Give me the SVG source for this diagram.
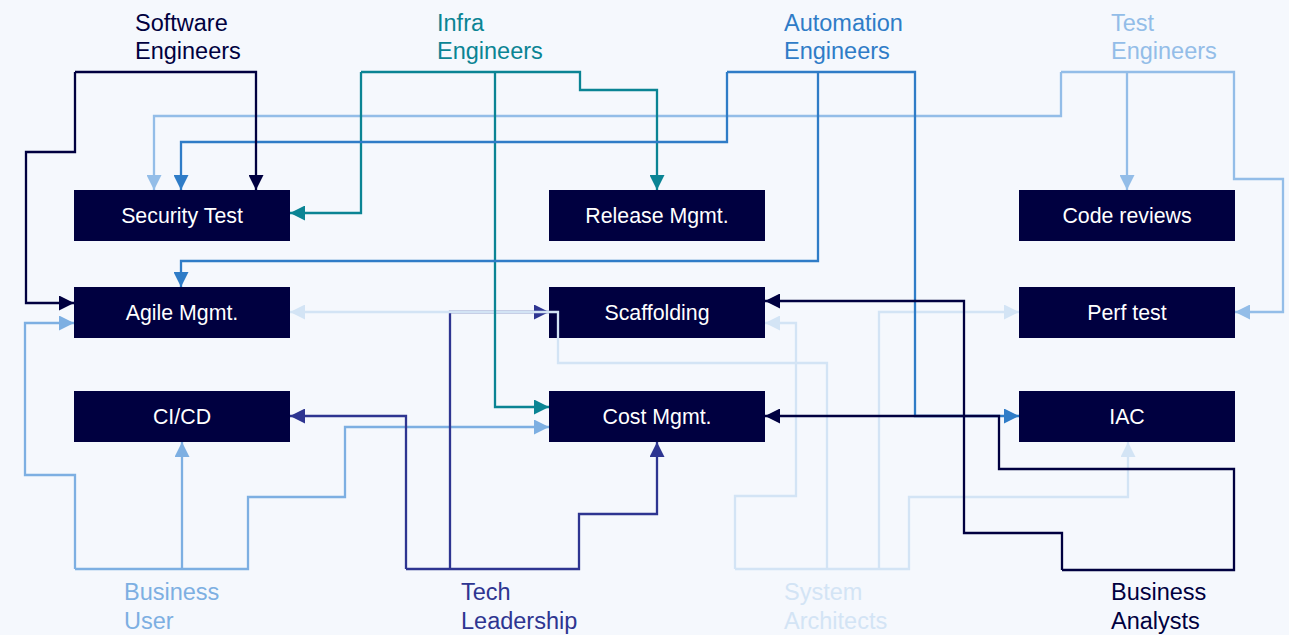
<svg xmlns="http://www.w3.org/2000/svg" width="1289" height="635" viewBox="0 0 1289 635">
<style>
.bg{fill:#F5F8FD}
.box{fill:#000040}
.nt{font-family:"Liberation Sans",Arial,sans-serif;font-size:21.33px;fill:#FFFFFF;text-anchor:middle}
.lb{font-family:"Liberation Sans",Arial,sans-serif;font-size:23.5px}
.c{fill:none;stroke-width:2.3;stroke-linejoin:miter}
.navy{stroke:#000040}
.teal{stroke:#0A8494}
.auto{stroke:#2F7CC7}
.test{stroke:#93BDE8}
.user{stroke:#7DAFE2}
.tech{stroke:#2E3591}
.arch{stroke:#D3E4F5}
</style>
<defs>
<marker id="m-navy" markerUnits="userSpaceOnUse" markerWidth="15" markerHeight="15" refX="15" refY="7.5" orient="auto"><path d="M0,0 L15,7.5 L0,15 z" fill="#000040"/></marker>
<marker id="m-teal" markerUnits="userSpaceOnUse" markerWidth="15" markerHeight="15" refX="15" refY="7.5" orient="auto"><path d="M0,0 L15,7.5 L0,15 z" fill="#0A8494"/></marker>
<marker id="m-auto" markerUnits="userSpaceOnUse" markerWidth="15" markerHeight="15" refX="15" refY="7.5" orient="auto"><path d="M0,0 L15,7.5 L0,15 z" fill="#2F7CC7"/></marker>
<marker id="m-test" markerUnits="userSpaceOnUse" markerWidth="15" markerHeight="15" refX="15" refY="7.5" orient="auto"><path d="M0,0 L15,7.5 L0,15 z" fill="#93BDE8"/></marker>
<marker id="m-user" markerUnits="userSpaceOnUse" markerWidth="15" markerHeight="15" refX="15" refY="7.5" orient="auto"><path d="M0,0 L15,7.5 L0,15 z" fill="#7DAFE2"/></marker>
<marker id="m-tech" markerUnits="userSpaceOnUse" markerWidth="15" markerHeight="15" refX="15" refY="7.5" orient="auto"><path d="M0,0 L15,7.5 L0,15 z" fill="#2E3591"/></marker>
<marker id="m-arch" markerUnits="userSpaceOnUse" markerWidth="15" markerHeight="15" refX="15" refY="7.5" orient="auto"><path d="M0,0 L15,7.5 L0,15 z" fill="#D3E4F5"/></marker>
</defs>
<rect class="bg" x="0" y="0" width="1289" height="635"/>

<g id="label-software-engineers"><text class="lb" fill="#000040"><tspan x="135" y="30.5">Software</tspan><tspan x="135" y="59.3">Engineers</tspan></text></g>
<g id="label-infra-engineers"><text class="lb" fill="#0A8494"><tspan x="437" y="30.5">Infra</tspan><tspan x="437" y="59.3">Engineers</tspan></text></g>
<g id="label-automation-engineers"><text class="lb" fill="#2F7CC7"><tspan x="784" y="30.5">Automation</tspan><tspan x="784" y="59.3">Engineers</tspan></text></g>
<g id="label-test-engineers"><text class="lb" fill="#93BDE8"><tspan x="1111" y="30.5">Test</tspan><tspan x="1111" y="59.3">Engineers</tspan></text></g>
<g id="label-business-user"><text class="lb" fill="#7DAFE2"><tspan x="124" y="600">Business</tspan><tspan x="124" y="629">User</tspan></text></g>
<g id="label-tech-leadership"><text class="lb" fill="#2E3591"><tspan x="461" y="600">Tech</tspan><tspan x="461" y="629">Leadership</tspan></text></g>
<g id="label-system-architects"><text class="lb" fill="#D3E4F5"><tspan x="784" y="600">System</tspan><tspan x="784" y="629">Architects</tspan></text></g>
<g id="label-business-analysts"><text class="lb" fill="#000040"><tspan x="1111" y="600">Business</tspan><tspan x="1111" y="629">Analysts</tspan></text></g>

<g id="node-security-test"><rect class="box" x="74" y="190" width="216" height="51"/><text class="nt" x="182" y="223">Security Test</text></g>
<g id="node-release-mgmt"><rect class="box" x="549" y="190" width="216" height="51"/><text class="nt" x="657" y="223">Release Mgmt.</text></g>
<g id="node-code-reviews"><rect class="box" x="1019" y="190" width="216" height="51"/><text class="nt" x="1127" y="223">Code reviews</text></g>
<g id="node-agile-mgmt"><rect class="box" x="74" y="287" width="216" height="51"/><text class="nt" x="182" y="320">Agile Mgmt.</text></g>
<g id="node-scaffolding"><rect class="box" x="549" y="287" width="216" height="51"/><text class="nt" x="657" y="320">Scaffolding</text></g>
<g id="node-perf-test"><rect class="box" x="1019" y="287" width="216" height="51"/><text class="nt" x="1127" y="320">Perf test</text></g>
<g id="node-cicd"><rect class="box" x="74" y="391" width="216" height="51"/><text class="nt" x="182" y="424">CI/CD</text></g>
<g id="node-cost-mgmt"><rect class="box" x="549" y="391" width="216" height="51"/><text class="nt" x="657" y="424">Cost Mgmt.</text></g>
<g id="node-iac"><rect class="box" x="1019" y="391" width="216" height="51"/><text class="nt" x="1127" y="424">IAC</text></g>

<g id="connectors">
<path class="c test" d="M1061,72 H1234 V179 H1283 V312 H1235" marker-end="url(#m-test)"/>
<path class="c test" d="M1061,72 V116 H154 V190" marker-end="url(#m-test)"/>
<path class="c test" d="M1127,72 V190" marker-end="url(#m-test)"/>
<path class="c user" d="M75,569 H248 V497 H345 V427 H549" marker-end="url(#m-user)"/>
<path class="c user" d="M182,569 V442" marker-end="url(#m-user)"/>
<path class="c user" d="M75,569 V475 H25 V323 H74" marker-end="url(#m-user)"/>
<path class="c tech" d="M406,569 H579 V514 H657 V442" marker-end="url(#m-tech)"/>
<path class="c tech" d="M406,569 V416 H290" marker-end="url(#m-tech)"/>
<path class="c tech" d="M450,569 V312 H549" marker-end="url(#m-tech)"/>
<path class="c arch" d="M735,569 H909 V497 H1128 V442" marker-end="url(#m-arch)"/>
<path class="c arch" d="M735,569 V496 H796 V323 H765" marker-end="url(#m-arch)"/>
<path class="c arch" d="M827,569 V363 H558 V312 H290" marker-end="url(#m-arch)"/>
<path class="c arch" d="M879,569 V312 H1019" marker-end="url(#m-arch)"/>
<path class="c teal" d="M361,72 H580 V90 H657 V190" marker-end="url(#m-teal)"/>
<path class="c teal" d="M361,72 V213 H290" marker-end="url(#m-teal)"/>
<path class="c teal" d="M495,72 V407 H549" marker-end="url(#m-teal)"/>
<path class="c auto" d="M727,72 H915 V416 H1019" marker-end="url(#m-auto)"/>
<path class="c auto" d="M727,72 V142 H181 V190" marker-end="url(#m-auto)"/>
<path class="c auto" d="M818,72 V261 H181 V287" marker-end="url(#m-auto)"/>
<path class="c navy" d="M75,72 H256 V190" marker-end="url(#m-navy)"/>
<path class="c navy" d="M75,72 V152 H26 V303 H74" marker-end="url(#m-navy)"/>
<path class="c navy" d="M1062,570 H1234 V469 H999 V416 H765" marker-end="url(#m-navy)"/>
<path class="c navy" d="M1062,570 V533 H964 V301 H765" marker-end="url(#m-navy)"/>
</g>
</svg>
